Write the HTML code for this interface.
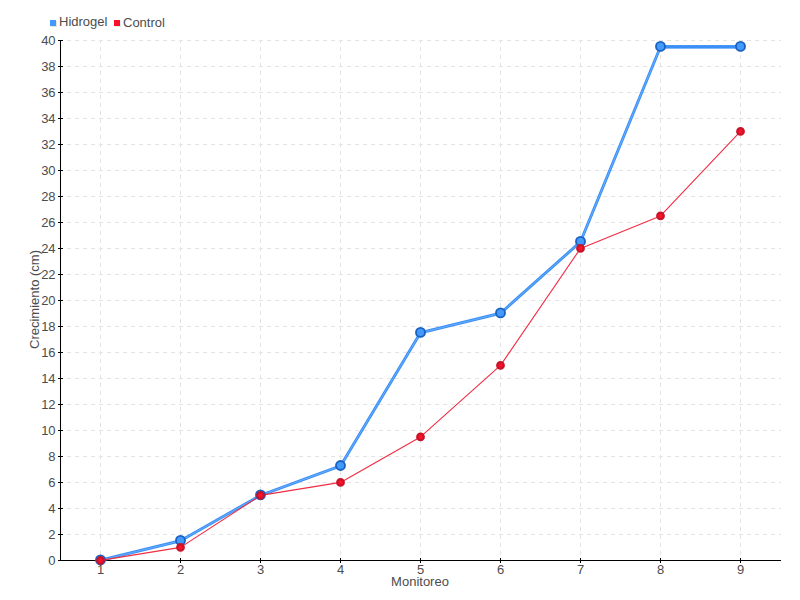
<!DOCTYPE html>
<html><head><meta charset="utf-8"><title>Chart</title>
<style>html,body{margin:0;padding:0;background:#fff;font-family:"Liberation Sans",sans-serif;}svg{display:block}</style>
</head><body>
<svg width="800" height="600" viewBox="0 0 800 600">
<rect width="800" height="600" fill="#fff"/>
<g stroke="#e4e4e4" stroke-width="1" stroke-dasharray="4 4"><line x1="59" y1="534.5" x2="781" y2="534.5"/><line x1="59" y1="508.5" x2="781" y2="508.5"/><line x1="59" y1="482.5" x2="781" y2="482.5"/><line x1="59" y1="456.5" x2="781" y2="456.5"/><line x1="59" y1="430.5" x2="781" y2="430.5"/><line x1="59" y1="404.5" x2="781" y2="404.5"/><line x1="59" y1="378.5" x2="781" y2="378.5"/><line x1="59" y1="352.5" x2="781" y2="352.5"/><line x1="59" y1="326.5" x2="781" y2="326.5"/><line x1="59" y1="300.5" x2="781" y2="300.5"/><line x1="59" y1="274.5" x2="781" y2="274.5"/><line x1="59" y1="248.5" x2="781" y2="248.5"/><line x1="59" y1="222.5" x2="781" y2="222.5"/><line x1="59" y1="196.5" x2="781" y2="196.5"/><line x1="59" y1="170.5" x2="781" y2="170.5"/><line x1="59" y1="144.5" x2="781" y2="144.5"/><line x1="59" y1="118.5" x2="781" y2="118.5"/><line x1="59" y1="92.5" x2="781" y2="92.5"/><line x1="59" y1="66.5" x2="781" y2="66.5"/><line x1="59" y1="40.5" x2="781" y2="40.5"/></g>
<g stroke="#e4e4e4" stroke-width="1" stroke-dasharray="4 4"><line x1="100.5" y1="39" x2="100.5" y2="560"/><line x1="180.5" y1="39" x2="180.5" y2="560"/><line x1="260.5" y1="39" x2="260.5" y2="560"/><line x1="340.5" y1="39" x2="340.5" y2="560"/><line x1="420.5" y1="39" x2="420.5" y2="560"/><line x1="500.5" y1="39" x2="500.5" y2="560"/><line x1="580.5" y1="39" x2="580.5" y2="560"/><line x1="660.5" y1="39" x2="660.5" y2="560"/><line x1="740.5" y1="39" x2="740.5" y2="560"/></g>
<rect x="62" y="30" width="730" height="10" fill="#fff"/>
<line x1="60.5" y1="40" x2="60.5" y2="561" stroke="#000" stroke-width="1.05"/>
<line x1="60" y1="560.5" x2="781" y2="560.5" stroke="#000" stroke-width="1.1"/>
<g stroke="#000" stroke-width="1"><line x1="58" y1="560.5" x2="63" y2="560.5"/><line x1="58" y1="534.5" x2="63" y2="534.5"/><line x1="58" y1="508.5" x2="63" y2="508.5"/><line x1="58" y1="482.5" x2="63" y2="482.5"/><line x1="58" y1="456.5" x2="63" y2="456.5"/><line x1="58" y1="430.5" x2="63" y2="430.5"/><line x1="58" y1="404.5" x2="63" y2="404.5"/><line x1="58" y1="378.5" x2="63" y2="378.5"/><line x1="58" y1="352.5" x2="63" y2="352.5"/><line x1="58" y1="326.5" x2="63" y2="326.5"/><line x1="58" y1="300.5" x2="63" y2="300.5"/><line x1="58" y1="274.5" x2="63" y2="274.5"/><line x1="58" y1="248.5" x2="63" y2="248.5"/><line x1="58" y1="222.5" x2="63" y2="222.5"/><line x1="58" y1="196.5" x2="63" y2="196.5"/><line x1="58" y1="170.5" x2="63" y2="170.5"/><line x1="58" y1="144.5" x2="63" y2="144.5"/><line x1="58" y1="118.5" x2="63" y2="118.5"/><line x1="58" y1="92.5" x2="63" y2="92.5"/><line x1="58" y1="66.5" x2="63" y2="66.5"/><line x1="58" y1="40.5" x2="63" y2="40.5"/><line x1="100.5" y1="558" x2="100.5" y2="563"/><line x1="180.5" y1="558" x2="180.5" y2="563"/><line x1="260.5" y1="558" x2="260.5" y2="563"/><line x1="340.5" y1="558" x2="340.5" y2="563"/><line x1="420.5" y1="558" x2="420.5" y2="563"/><line x1="500.5" y1="558" x2="500.5" y2="563"/><line x1="580.5" y1="558" x2="580.5" y2="563"/><line x1="660.5" y1="558" x2="660.5" y2="563"/><line x1="740.5" y1="558" x2="740.5" y2="563"/></g>
<rect x="51" y="21" width="6" height="6" fill="#ebe1d3"/><rect x="50" y="20" width="6" height="6" fill="#4499fe"/>
<rect x="115" y="21" width="6" height="6" fill="#dcefef"/><rect x="114" y="20" width="6" height="6" fill="#fd0f2c"/>
<polyline points="100.5,560.30 180.5,540.80 260.5,495.30 340.5,465.92 420.5,332.80 500.5,313.30 580.5,241.80 660.5,46.80 740.5,46.80" fill="none" stroke="#3a90f6" stroke-width="2.95" stroke-linejoin="round" stroke-linecap="round"/>
<line x1="660.5" y1="46.80" x2="740.5" y2="46.80" stroke="#3a90f6" stroke-width="3.25"/>
<polyline points="100.5,560.30 180.5,540.80 260.5,495.30 340.5,465.92 420.5,332.80 500.5,313.30 580.5,241.80 660.5,46.80" fill="none" stroke="#6fb0fb" stroke-width="0.9" stroke-linejoin="round" stroke-linecap="round"/>
<polyline points="100.5,560.40 180.5,547.40 260.5,495.40 340.5,482.40 420.5,436.90 500.5,365.40 580.5,248.40 660.5,215.90 740.5,131.40" fill="none" stroke="#f12c44" stroke-width="1.1" stroke-linejoin="round"/>
<g fill="#4499fd" stroke="#1a62c0" stroke-width="1.85"><circle cx="100.5" cy="559.90" r="4.5"/><circle cx="180.5" cy="540.40" r="4.5"/><circle cx="260.5" cy="494.90" r="4.5"/><circle cx="340.5" cy="465.52" r="4.5"/><circle cx="420.5" cy="332.40" r="4.5"/><circle cx="500.5" cy="312.90" r="4.5"/><circle cx="580.5" cy="241.40" r="4.5"/><circle cx="660.5" cy="46.40" r="4.5"/><circle cx="740.5" cy="46.40" r="4.5"/></g>
<g fill="#ff1029" stroke="#c8142a" stroke-width="2.2"><circle cx="100.5" cy="560.40" r="3.3"/><circle cx="180.5" cy="547.40" r="3.3"/><circle cx="260.5" cy="495.40" r="3.3"/><circle cx="340.5" cy="482.40" r="3.3"/><circle cx="420.5" cy="436.90" r="3.3"/><circle cx="500.5" cy="365.40" r="3.3"/><circle cx="580.5" cy="248.40" r="3.3"/><circle cx="660.5" cy="215.90" r="3.3"/><circle cx="740.5" cy="131.40" r="3.3"/></g>
<g font-family="Liberation Sans, sans-serif" font-size="13" fill="#4c4c4c"><text x="59" y="26">Hidrogel</text><text x="123" y="27">Control</text><text x="420" y="586" text-anchor="middle">Monitoreo</text><text transform="translate(38.8,299.5) rotate(-90)" text-anchor="middle">Crecimiento (cm)</text><text x="55.6" y="564.7" text-anchor="end">0</text><text x="55.6" y="538.7" text-anchor="end">2</text><text x="55.6" y="512.7" text-anchor="end">4</text><text x="55.6" y="486.7" text-anchor="end">6</text><text x="55.6" y="460.7" text-anchor="end">8</text><text x="55.6" y="434.7" text-anchor="end">10</text><text x="55.6" y="408.7" text-anchor="end">12</text><text x="55.6" y="382.7" text-anchor="end">14</text><text x="55.6" y="356.7" text-anchor="end">16</text><text x="55.6" y="330.7" text-anchor="end">18</text><text x="55.6" y="304.7" text-anchor="end">20</text><text x="55.6" y="278.7" text-anchor="end">22</text><text x="55.6" y="252.7" text-anchor="end">24</text><text x="55.6" y="226.7" text-anchor="end">26</text><text x="55.6" y="200.7" text-anchor="end">28</text><text x="55.6" y="174.7" text-anchor="end">30</text><text x="55.6" y="148.7" text-anchor="end">32</text><text x="55.6" y="122.7" text-anchor="end">34</text><text x="55.6" y="96.7" text-anchor="end">36</text><text x="55.6" y="70.7" text-anchor="end">38</text><text x="55.6" y="44.7" text-anchor="end">40</text><text x="100.5" y="574" text-anchor="middle">1</text><text x="180.5" y="574" text-anchor="middle">2</text><text x="260.5" y="574" text-anchor="middle">3</text><text x="340.5" y="574" text-anchor="middle">4</text><text x="420.5" y="574" text-anchor="middle">5</text><text x="500.5" y="574" text-anchor="middle">6</text><text x="580.5" y="574" text-anchor="middle">7</text><text x="660.5" y="574" text-anchor="middle">8</text><text x="740.5" y="574" text-anchor="middle">9</text></g>
</svg>
</body></html>
